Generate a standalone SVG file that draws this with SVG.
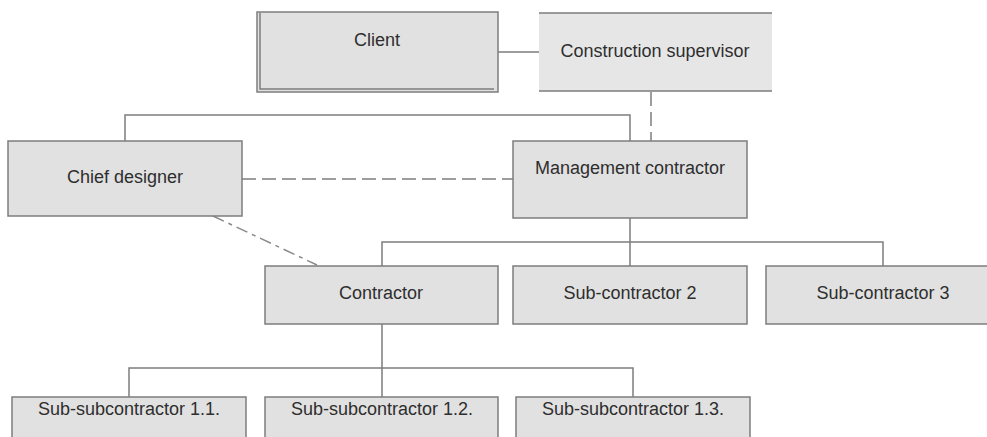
<svg xmlns="http://www.w3.org/2000/svg" width="987" height="437" viewBox="0 0 987 437">
<style>
.box{fill:#e1e1e1;stroke:#7d7d7d;stroke-width:1.5}
.t{font-family:"Liberation Sans",Arial,sans-serif;font-size:18px;fill:#2e2e2e;text-anchor:middle}
.ln{fill:none;stroke:#7d7d7d;stroke-width:1.5}
.dash{fill:none;stroke:#7d7d7d;stroke-width:1.5;stroke-dasharray:14 6}
.dd{fill:none;stroke:#8a8a8a;stroke-width:1.5;stroke-dasharray:12 5 4 5}
</style>
<rect width="987" height="437" fill="#ffffff"/>
<g id="connectors">
<line class="ln" x1="498" y1="52" x2="539" y2="52"/>
<line class="dash" x1="651" y1="92" x2="651" y2="141"/>
<polyline class="ln" points="125,141 125,115 630,115 630,141"/>
<line class="dash" x1="242" y1="179" x2="513" y2="179"/>
<line class="dd" x1="213" y1="216" x2="317" y2="265"/>
<line class="ln" x1="630" y1="218" x2="630" y2="266"/>
<polyline class="ln" points="382,266 382,242 883,242 883,266"/>
<line class="ln" x1="382" y1="324" x2="382" y2="397"/>
<polyline class="ln" points="129,397 129,368 633,368 633,397"/>
</g>
<g id="client">
<rect class="box" x="257" y="12" width="241" height="80"/>
<polyline class="ln" points="260,13 260,89 494,89"/>
<text class="t" x="377" y="46">Client</text>
</g>
<g id="supervisor">
<rect x="539" y="13" width="233" height="78" fill="#e6e6e6"/>
<line class="ln" x1="539" y1="13" x2="772" y2="13"/>
<line class="ln" x1="539" y1="91" x2="772" y2="91"/>
<text class="t" x="655" y="57">Construction supervisor</text>
</g>
<g id="chief-designer">
<rect class="box" x="8" y="141" width="234" height="75"/>
<text class="t" x="125" y="183">Chief designer</text>
</g>
<g id="management-contractor">
<rect class="box" x="513" y="141" width="234" height="77"/>
<text class="t" x="630" y="174">Management contractor</text>
</g>
<g id="contractor">
<rect class="box" x="265" y="266" width="233" height="58"/>
<text class="t" x="381" y="299">Contractor</text>
</g>
<g id="sub-contractor-2">
<rect class="box" x="513" y="266" width="234" height="58"/>
<text class="t" x="630" y="299">Sub-contractor 2</text>
</g>
<g id="sub-contractor-3">
<rect class="box" x="766" y="266" width="234" height="58"/>
<text class="t" x="883" y="299">Sub-contractor 3</text>
</g>
<g id="sub-sub-1-1">
<rect class="box" x="12" y="397" width="234" height="60"/>
<text class="t" x="129" y="415">Sub-subcontractor 1.1.</text>
</g>
<g id="sub-sub-1-2">
<rect class="box" x="265" y="397" width="233" height="60"/>
<text class="t" x="382" y="415">Sub-subcontractor 1.2.</text>
</g>
<g id="sub-sub-1-3">
<rect class="box" x="516" y="397" width="234" height="60"/>
<text class="t" x="633" y="415">Sub-subcontractor 1.3.</text>
</g>
</svg>
